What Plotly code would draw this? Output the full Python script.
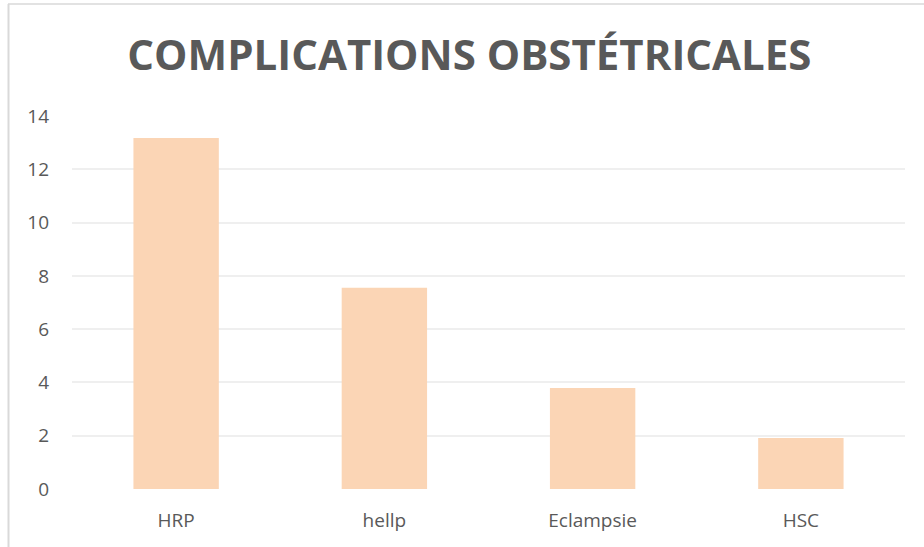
import plotly.graph_objects as go

# Obstetric complications: counts per category
categories = ["HRP", "hellp", "Eclampsie", "HSC"]
values = [13.17, 7.55, 3.79, 1.91]
y_ticks = [0, 2, 4, 6, 8, 10, 12, 14]

W, H = 924, 547
L, R, T, B = 72, 19, 116, 58  # plot-area margins in px
pw, ph = W - L - R, H - T - B


def px_to_paper_x(px):
    return (px - L) / pw


def px_to_paper_y(py):
    return (H - B - py) / ph


fig = go.Figure(
    go.Bar(
        x=categories,
        y=values,
        marker=dict(color="#FBD5B5", line=dict(width=0)),
        width=0.41,
        hoverinfo="x+y",
    )
)

# Outer chart border (top and left edges)
border = "#D9D9D9"
fig.add_shape(type="line", xref="paper", yref="paper",
              x0=px_to_paper_x(8), x1=px_to_paper_x(W + 5),
              y0=px_to_paper_y(4), y1=px_to_paper_y(4),
              line=dict(color=border, width=1.5))
fig.add_shape(type="line", xref="paper", yref="paper",
              x0=px_to_paper_x(8.5), x1=px_to_paper_x(8.5),
              y0=px_to_paper_y(4), y1=px_to_paper_y(H + 5),
              line=dict(color=border, width=2))

fig.update_layout(
    width=W,
    height=H,
    margin=dict(l=L, r=R, t=T, b=B),
    paper_bgcolor="white",
    plot_bgcolor="white",
    showlegend=False,
    title=dict(
        text="<b>COMPLICATIONS OBSTÉTRICALES</b>",
        x=0.508,
        xanchor="center",
        y=1 - 55 / H,
        yanchor="middle",
        font=dict(family="Open Sans", size=42, color="#595959"),
    ),
    font=dict(family="Open Sans", color="#595959"),
    bargap=0.59,
)

fig.update_xaxes(
    showgrid=False,
    showline=False,
    zeroline=False,
    ticks="",
    tickfont=dict(size=19, color="#595959"),
    ticklabelstandoff=18,
)
fig.update_yaxes(
    range=[0, 14],
    tickvals=y_ticks,
    ticktext=[str(v) for v in y_ticks],
    showgrid=True,
    gridcolor="#EFEFEF",
    gridwidth=1.5,
    zeroline=False,
    showline=False,
    ticks="",
    tickfont=dict(size=19, color="#595959"),
    ticklabelstandoff=22,
)

fig.write_html("out.html")
